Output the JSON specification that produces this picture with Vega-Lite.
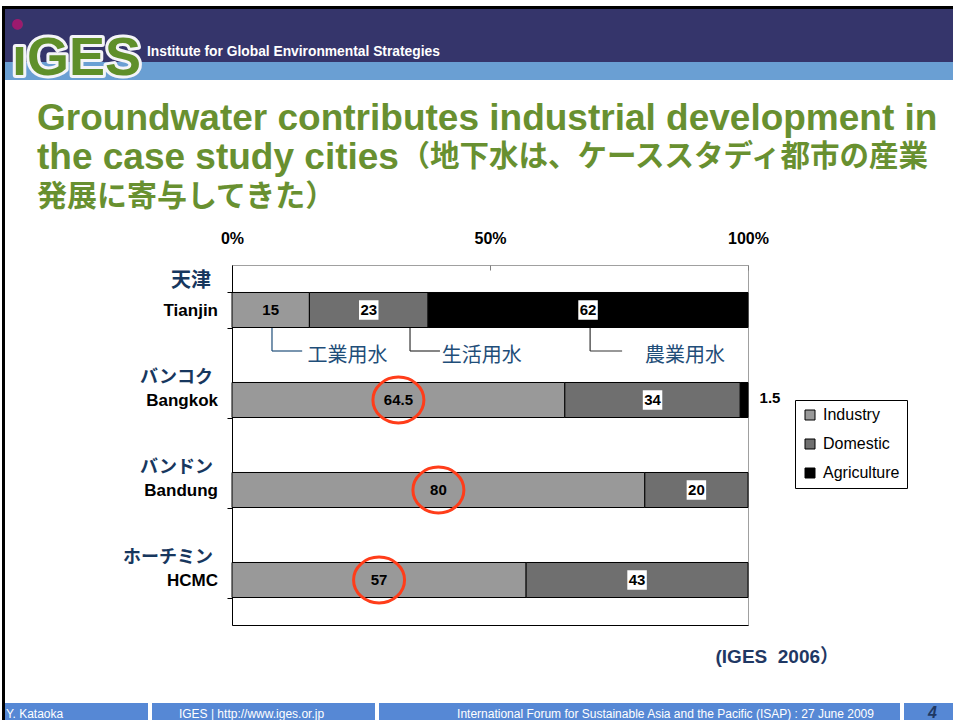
{
  "$schema": "https://vega.github.io/schema/vega-lite/v6.json",
  "background": "white",
  "padding": {"left": 2, "top": 6, "right": 0, "bottom": 0},
  "config": {"view": {"stroke": null}, "font": "Liberation Sans"},
  "datasets": {
    "water": [
      {"city": "Tianjin", "category": "Industry", "value": 15},
      {"city": "Tianjin", "category": "Domestic", "value": 23},
      {"city": "Tianjin", "category": "Agriculture", "value": 62},
      {"city": "Bangkok", "category": "Industry", "value": 64.5},
      {"city": "Bangkok", "category": "Domestic", "value": 34},
      {"city": "Bangkok", "category": "Agriculture", "value": 1.5},
      {"city": "Bandung", "category": "Industry", "value": 80},
      {"city": "Bandung", "category": "Domestic", "value": 20},
      {"city": "Bandung", "category": "Agriculture", "value": 0},
      {"city": "HCMC", "category": "Industry", "value": 57},
      {"city": "HCMC", "category": "Domestic", "value": 43},
      {"city": "HCMC", "category": "Agriculture", "value": 0}
    ],
    "cities": [
      {"city": "Tianjin", "ja": "天津"},
      {"city": "Bangkok", "ja": "バンコク"},
      {"city": "Bandung", "ja": "バンドン"},
      {"city": "HCMC", "ja": "ホーチミン"}
    ],
    "notes": [
      {"label": "工業用水", "city": "Tianjin", "lx": 7.75, "hx": 13.6, "tx": 22.4},
      {"label": "生活用水", "city": "Tianjin", "lx": 34.5, "hx": 40.3, "tx": 48.4},
      {"label": "農業用水", "city": "Tianjin", "lx": 69.4, "hx": 75.6, "tx": 87.8}
    ]
  },
  "bounds": "flush",
  "spacing": 0,
  "hconcat": [
    {
      "width": 3, "height": 714,
      "view": {"fill": "black", "stroke": null},
      "data": {"values": []},
      "mark": "text"
    },
    {
      "bounds": "flush",
      "spacing": 0,
      "vconcat": [
        {
          "width": 948, "height": 3,
          "view": {"fill": "black", "stroke": null},
          "data": {"values": []},
          "mark": "text"
        },
        {
          "width": 948, "height": 71,
          "view": {"stroke": null, "fill": {"gradient": "linear", "x1": 0, "y1": 0, "x2": 0, "y2": 1, "stops": [
            {"offset": 0, "color": "#35356b"}, {"offset": 0.746, "color": "#35356b"},
            {"offset": 0.746, "color": "#6a9fd3"}, {"offset": 1, "color": "#6a9fd3"}]}},
          "data": {"values": [{"logo": "ıGES", "name": "Institute for Global Environmental Strategies"}]},
          "layer": [
            {"mark": {"type": "text", "font": "Liberation Sans Narrow, Liberation Sans", "fontSize": 54, "fontWeight": "bold", "align": "left", "baseline": "alphabetic", "dx": -467, "dy": 30.5, "fill": "#5f8f2a", "stroke": "#f4f4f8", "strokeWidth": 6, "strokeJoin": "round"},
             "encoding": {"text": {"field": "logo"}}},
            {"mark": {"type": "text", "font": "Liberation Sans Narrow, Liberation Sans", "fontSize": 54, "fontWeight": "bold", "align": "left", "baseline": "alphabetic", "dx": -467, "dy": 30.5, "fill": "#5f8f2a"},
             "encoding": {"text": {"field": "logo"}}},
            {"mark": {"type": "text", "text": "●", "font": "DejaVu Sans", "fontSize": 14, "align": "center", "baseline": "middle", "dx": -462, "dy": -21, "fill": "#9c1a6e"}},
            {"mark": {"type": "text", "font": "Liberation Sans", "fontSize": 13.8, "fontWeight": "bold", "align": "left", "baseline": "middle", "dx": -332, "dy": 7.5, "fill": "white"},
             "encoding": {"text": {"field": "name"}}}
          ]
        },
        {
          "width": 948, "height": 185,
          "data": {"values": []},
          "mark": "text"
        },
        {
          "bounds": "flush",
          "spacing": 0,
          "hconcat": [
            {"width": 227, "height": 360, "data": {"values": []}, "mark": "text"},
            {
              "width": 516, "height": 360,
              "view": {"stroke": "#a0a0a0", "fill": "white"},
              "title": {
                "text": ["Groundwater contributes industrial development in", "the case study cities"],
                "subtitle": "発展に寄与してきた）",
                "anchor": "start", "frame": "group", "dx": -195, "dy": 72, "offset": 0,
                "font": "Liberation Sans", "fontSize": 37, "fontWeight": "bold", "color": "#689030", "lineHeight": 39,
                "subtitleFont": "Noto Sans CJK JP", "subtitleFontSize": 30, "subtitleFontWeight": "bold", "subtitleColor": "#689030", "subtitlePadding": 5
              },
              "resolve": {"axis": {"x": "independent"}},
              "layer": [
                {
                  "data": {"name": "water"},
                  "transform": [
                    {"calculate": "indexof(['Industry','Domestic','Agriculture'], datum.category)", "as": "order"},
                    {"stack": "value", "groupby": ["city"], "sort": [{"field": "order", "order": "ascending"}], "as": ["x0", "x1"]},
                    {"filter": "datum.value > 0"}
                  ],
                  "mark": {"type": "bar", "stroke": "black", "strokeWidth": 1},
                  "encoding": {
                    "x": {"field": "x0", "type": "quantitative", "scale": {"domain": [0, 100], "nice": false},
                      "axis": {"orient": "top", "values": [0, 50, 100], "labelExpr": "datum.value + '%'", "labelFont": "Liberation Sans", "labelFontSize": 16, "labelFontWeight": "bold", "labelColor": "black", "labelPadding": 24, "labelFlush": false, "tickSize": -5, "tickColor": "#7f7f7f", "domain": false, "grid": false,
                        "title": "（地下水は、ケーススタディ都市の産業", "titleX": 168, "titleY": -100, "titleAlign": "left", "titleAnchor": "start", "titleBaseline": "alphabetic", "titleFont": "Noto Sans CJK JP", "titleFontSize": 29.5, "titleFontWeight": "bold", "titleColor": "#689030", "titleAngle": 0}},
                    "x2": {"field": "x1"},
                    "y": {"field": "city", "type": "nominal", "scale": {"domain": ["Tianjin", "Bangkok", "Bandung", "HCMC"], "paddingInner": 0.611, "paddingOuter": 0.3055},
                      "axis": {"orient": "left", "labels": false, "title": null, "domainColor": "black", "tickColor": "black", "tickSize": 5, "tickBand": "extent", "grid": false}},
                    "color": {"field": "category", "type": "nominal",
                      "scale": {"domain": ["Industry", "Domestic", "Agriculture"], "range": ["#999999", "#6f6f6f", "#000000"]},
                      "legend": {"orient": "none", "legendX": 793, "legendY": 394, "title": null, "strokeColor": "black", "fillColor": "white", "padding": 7, "labelFont": "Liberation Sans", "labelFontSize": 16, "labelColor": "black", "symbolType": "square", "symbolSize": 100, "symbolStrokeColor": "black", "symbolStrokeWidth": 1, "rowPadding": 13, "labelOffset": 5, "cornerRadius": 0}}
                  }
                },
                {
                  "data": {"name": "water"},
                  "transform": [
                    {"calculate": "indexof(['Industry','Domestic','Agriculture'], datum.category)", "as": "order"},
                    {"stack": "value", "groupby": ["city"], "sort": [{"field": "order", "order": "ascending"}], "as": ["x0", "x1"]},
                    {"calculate": "(datum.x0 + datum.x1) / 2", "as": "mid"},
                    {"filter": "datum.category !== 'Industry' && datum.value >= 10"}
                  ],
                  "mark": {"type": "square", "filled": true, "color": "white", "opacity": 1, "size": 380},
                  "encoding": {
                    "x": {"field": "mid", "type": "quantitative", "scale": {"domain": [0, 100], "nice": false}, "axis": null},
                    "y": {"field": "city", "type": "nominal", "scale": {"domain": ["Tianjin", "Bangkok", "Bandung", "HCMC"], "paddingInner": 0.611, "paddingOuter": 0.3055}}
                  }
                },
                {
                  "data": {"name": "water"},
                  "transform": [
                    {"calculate": "indexof(['Industry','Domestic','Agriculture'], datum.category)", "as": "order"},
                    {"stack": "value", "groupby": ["city"], "sort": [{"field": "order", "order": "ascending"}], "as": ["x0", "x1"]},
                    {"calculate": "(datum.x0 + datum.x1) / 2", "as": "mid"},
                    {"filter": "datum.value >= 10"}
                  ],
                  "mark": {"type": "text", "font": "Liberation Sans", "fontSize": 15, "fontWeight": "bold", "color": "black", "align": "center", "baseline": "middle"},
                  "encoding": {
                    "x": {"field": "mid", "type": "quantitative", "scale": {"domain": [0, 100], "nice": false},
                      "axis": {"orient": "bottom", "labels": false, "ticks": false, "domain": true, "domainColor": "black", "grid": false,
                        "title": "(IGES\u00a0\u00a02006）", "titleX": 483, "titleY": 37, "titleAlign": "left", "titleAnchor": "start", "titleBaseline": "alphabetic", "titleFont": "Liberation Sans, Noto Sans CJK JP", "titleFontSize": 19, "titleFontWeight": "bold", "titleColor": "#1f3864", "titleAngle": 0}},
                    "y": {"field": "city", "type": "nominal", "scale": {"domain": ["Tianjin", "Bangkok", "Bandung", "HCMC"], "paddingInner": 0.611, "paddingOuter": 0.3055}},
                    "text": {"field": "value", "type": "nominal"}
                  }
                },
                {
                  "data": {"name": "water"},
                  "transform": [
                    {"calculate": "indexof(['Industry','Domestic','Agriculture'], datum.category)", "as": "order"},
                    {"stack": "value", "groupby": ["city"], "sort": [{"field": "order", "order": "ascending"}], "as": ["x0", "x1"]},
                    {"filter": "datum.value > 0 && datum.value < 10"}
                  ],
                  "mark": {"type": "text", "font": "Liberation Sans", "fontSize": 15, "fontWeight": "bold", "color": "black", "align": "center", "baseline": "middle", "dx": 22, "dy": -2},
                  "encoding": {
                    "x": {"field": "x1", "type": "quantitative", "scale": {"domain": [0, 100], "nice": false}, "axis": null},
                    "y": {"field": "city", "type": "nominal", "scale": {"domain": ["Tianjin", "Bangkok", "Bandung", "HCMC"], "paddingInner": 0.611, "paddingOuter": 0.3055}},
                    "text": {"field": "value", "type": "nominal"}
                  }
                },
                {
                  "data": {"name": "water"},
                  "transform": [
                    {"calculate": "indexof(['Industry','Domestic','Agriculture'], datum.category)", "as": "order"},
                    {"stack": "value", "groupby": ["city"], "sort": [{"field": "order", "order": "ascending"}], "as": ["x0", "x1"]},
                    {"calculate": "(datum.x0 + datum.x1) / 2", "as": "mid"},
                    {"filter": "datum.category === 'Industry' && datum.city !== 'Tianjin'"}
                  ],
                  "mark": {"type": "point", "shape": "M -1 0 A 1 0.9 0 1 1 1 0 A 1 0.9 0 1 1 -1 0 Z", "size": 2600, "filled": false, "stroke": "#ff3d1a", "strokeWidth": 3, "opacity": 1},
                  "encoding": {
                    "x": {"field": "mid", "type": "quantitative", "scale": {"domain": [0, 100], "nice": false}, "axis": null},
                    "y": {"field": "city", "type": "nominal", "scale": {"domain": ["Tianjin", "Bangkok", "Bandung", "HCMC"], "paddingInner": 0.611, "paddingOuter": 0.3055}}
                  }
                },
                {
                  "data": {"name": "cities"},
                  "transform": [{"filter": "datum.city === 'Tianjin'"}],
                  "mark": {"type": "text", "font": "Noto Sans CJK JP", "fontSize": 20, "fontWeight": "bold", "color": "#17375e", "align": "right", "baseline": "middle", "dx": -21, "dy": -29},
                  "encoding": {
                    "x": {"datum": 0, "type": "quantitative", "scale": {"domain": [0, 100], "nice": false}, "axis": null},
                    "y": {"field": "city", "type": "nominal", "scale": {"domain": ["Tianjin", "Bangkok", "Bandung", "HCMC"], "paddingInner": 0.611, "paddingOuter": 0.3055}},
                    "text": {"field": "ja"}
                  }
                },
                {
                  "data": {"name": "cities"},
                  "transform": [{"filter": "datum.city !== 'Tianjin'"}],
                  "mark": {"type": "text", "font": "Noto Sans CJK JP", "fontSize": 18, "fontWeight": "bold", "color": "#17375e", "align": "right", "baseline": "middle", "dx": -19, "dy": -22},
                  "encoding": {
                    "x": {"datum": 0, "type": "quantitative", "scale": {"domain": [0, 100], "nice": false}, "axis": null},
                    "y": {"field": "city", "type": "nominal", "scale": {"domain": ["Tianjin", "Bangkok", "Bandung", "HCMC"], "paddingInner": 0.611, "paddingOuter": 0.3055}},
                    "text": {"field": "ja"}
                  }
                },
                {
                  "data": {"name": "cities"},
                  "mark": {"type": "text", "font": "Liberation Sans", "fontSize": 17, "fontWeight": "bold", "color": "black", "align": "right", "baseline": "middle", "dx": -14, "dy": 1},
                  "encoding": {
                    "x": {"datum": 0, "type": "quantitative", "scale": {"domain": [0, 100], "nice": false}, "axis": null},
                    "y": {"field": "city", "type": "nominal", "scale": {"domain": ["Tianjin", "Bangkok", "Bandung", "HCMC"], "paddingInner": 0.611, "paddingOuter": 0.3055}},
                    "text": {"field": "city"}
                  }
                },
                {
                  "data": {"name": "notes"},
                  "mark": {"type": "rule", "yOffset": 18, "y2Offset": 41, "strokeWidth": 1.2},
                  "encoding": {
                    "x": {"field": "lx", "type": "quantitative", "scale": {"domain": [0, 100], "nice": false}, "axis": null},
                    "y": {"field": "city", "type": "nominal", "scale": {"domain": ["Tianjin", "Bangkok", "Bandung", "HCMC"], "paddingInner": 0.611, "paddingOuter": 0.3055}},
                    "y2": {"field": "city"},
                    "color": {"condition": {"test": "datum.label === '工業用水'", "value": "#1f4e79"}, "value": "#333333"}
                  }
                },
                {
                  "data": {"name": "notes"},
                  "mark": {"type": "rule", "yOffset": 41, "strokeWidth": 1.2},
                  "encoding": {
                    "x": {"field": "lx", "type": "quantitative", "scale": {"domain": [0, 100], "nice": false}, "axis": null},
                    "x2": {"field": "hx"},
                    "y": {"field": "city", "type": "nominal", "scale": {"domain": ["Tianjin", "Bangkok", "Bandung", "HCMC"], "paddingInner": 0.611, "paddingOuter": 0.3055}},
                    "color": {"condition": {"test": "datum.label === '工業用水'", "value": "#1f4e79"}, "value": "#333333"}
                  }
                },
                {
                  "data": {"name": "notes"},
                  "mark": {"type": "text", "font": "Noto Sans CJK JP", "fontSize": 20, "color": "#1f4e79", "align": "center", "baseline": "middle", "dy": 46},
                  "encoding": {
                    "x": {"field": "tx", "type": "quantitative", "scale": {"domain": [0, 100], "nice": false}, "axis": null},
                    "y": {"field": "city", "type": "nominal", "scale": {"domain": ["Tianjin", "Bangkok", "Bandung", "HCMC"], "paddingInner": 0.611, "paddingOuter": 0.3055}},
                    "text": {"field": "label"}
                  }
                }
              ]
            }
          ]
        },
        {
          "width": 948, "height": 438,
          "data": {"values": []},
          "mark": "text"
        },
        {
          "bounds": "flush",
          "spacing": 4,
          "hconcat": [
            {"width": 143, "height": 17, "view": {"fill": "#5688d5", "stroke": null},
             "data": {"values": [{"t": "Y. Kataoka"}]},
             "mark": {"type": "text", "font": "Liberation Sans Narrow, Liberation Sans", "fontSize": 12, "color": "white", "align": "left", "baseline": "middle", "dx": -70.5, "dy": 2.5},
             "encoding": {"text": {"field": "t"}}},
            {"width": 223, "height": 17, "view": {"fill": "#5688d5", "stroke": null},
             "data": {"values": [{"t": "IGES | http://www.iges.or.jp"}]},
             "mark": {"type": "text", "font": "Liberation Sans Narrow, Liberation Sans", "fontSize": 12, "color": "white", "align": "center", "baseline": "middle", "dx": -12, "dy": 2.5},
             "encoding": {"text": {"field": "t"}}},
            {"width": 521, "height": 17, "view": {"fill": "#5688d5", "stroke": null},
             "data": {"values": [{"t": "International Forum for Sustainable Asia and the Pacific (ISAP) : 27 June 2009"}]},
             "mark": {"type": "text", "font": "Liberation Sans Narrow, Liberation Sans", "fontSize": 12, "color": "white", "align": "center", "baseline": "middle", "dx": 26, "dy": 2.5},
             "encoding": {"text": {"field": "t"}}},
            {"width": 49, "height": 17, "view": {"fill": "#5688d5", "stroke": null},
             "data": {"values": [{"t": "4"}]},
             "mark": {"type": "text", "font": "Liberation Sans", "fontSize": 16, "fontStyle": "italic", "fontWeight": "bold", "color": "#1f3864", "align": "center", "baseline": "middle", "dx": 4, "dy": 1},
             "encoding": {"text": {"field": "t"}}}
          ]
        }
      ]
    }
  ]
}
